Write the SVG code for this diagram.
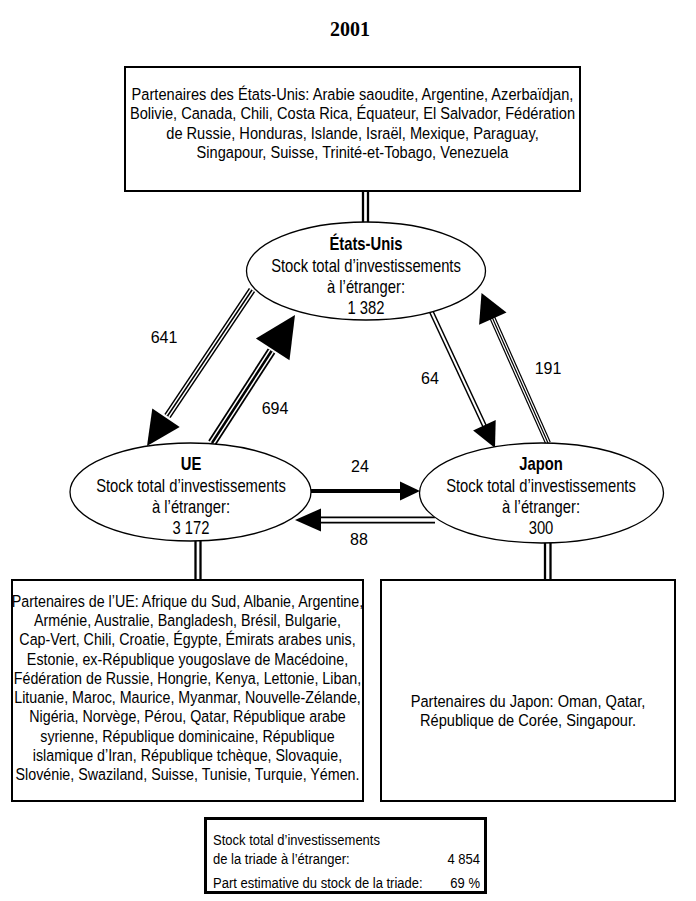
<svg xmlns="http://www.w3.org/2000/svg" width="696" height="901" viewBox="0 0 696 901">
<style>
.box{fill:#fff;stroke:#000;stroke-width:2}
.ell{fill:#fff;stroke:#000;stroke-width:1.3}
.t{font-family:"Liberation Sans",Arial,sans-serif;font-size:17px;fill:#000}
.te{font-family:"Liberation Sans",Arial,sans-serif;font-size:17.5px;fill:#000}
.tb{font-family:"Liberation Sans",Arial,sans-serif;font-size:15.5px;fill:#000}
.lbl{font-family:"Liberation Sans",Arial,sans-serif;font-size:16px;fill:#000;text-anchor:middle}
.b{font-weight:bold}
.k{fill:none;stroke:#000}
.w{fill:none;stroke:#fff}
.head{fill:#000}
.dl{stroke:#000;stroke-width:2.3}
</style>
<text id="title" x="350" y="36" font-family="Liberation Serif,serif" font-weight="bold" font-size="20" text-anchor="middle">2001</text>

<g id="connectors">
  <line class="dl" x1="363" y1="191" x2="363" y2="222"/>
  <line class="dl" x1="368" y1="191" x2="368" y2="222"/>
  <line class="dl" x1="195.5" y1="541" x2="195.5" y2="580"/>
  <line class="dl" x1="200.5" y1="541" x2="200.5" y2="580"/>
  <line class="dl" x1="545" y1="543" x2="545" y2="580"/>
  <line class="dl" x1="550.5" y1="543" x2="550.5" y2="580"/>
  <g id="a641">
    <line class="k" x1="252" y1="290" x2="167.5" y2="416" stroke-width="7.5"/>
    <line class="w" x1="252" y1="290" x2="167.5" y2="416" stroke-width="4.5"/>
    <line class="k" x1="252" y1="290" x2="167.5" y2="416" stroke-width="1.5"/>
    <polygon class="head" points="147,446 179.7,427 152.3,408.6"/>
  </g>
  <g id="a694">
    <line class="k" x1="212" y1="443" x2="271.5" y2="351" stroke-width="9"/>
    <line class="w" x1="212" y1="443" x2="271.5" y2="351" stroke-width="5.5"/>
    <line class="k" x1="212" y1="443" x2="271.5" y2="351" stroke-width="2.5"/>
    <polygon class="head" points="295,315 289.5,360.3 255.9,338.5"/>
  </g>
  <g id="a64">
    <line class="k" x1="431" y1="311" x2="485" y2="427" stroke-width="5"/>
    <line class="w" x1="431" y1="311" x2="485" y2="427" stroke-width="2"/>
    <polygon class="head" points="495,448 495.7,420 473.1,430.6"/>
  </g>
  <g id="a191">
    <line class="k" x1="548" y1="443" x2="492" y2="317" stroke-width="6"/>
    <line class="w" x1="548" y1="443" x2="492" y2="317" stroke-width="3.6"/>
    <line class="k" x1="548" y1="443" x2="492" y2="317" stroke-width="1.2"/>
    <polygon class="head" points="481.5,293 506.5,312.5 479.1,324.7"/>
  </g>
  <g id="a24">
    <line class="k" x1="311" y1="491" x2="402" y2="491" stroke-width="4"/>
    <polygon class="head" points="420,491 400,481.5 400,500.5"/>
  </g>
  <g id="a88">
    <line class="k" x1="435" y1="520" x2="319" y2="520" stroke-width="7"/>
    <line class="w" x1="435" y1="520" x2="319" y2="520" stroke-width="3.6"/>
    <polygon class="head" points="295,520 321,508.5 321,531.5"/>
  </g>
  <text class="lbl" x="164" y="343">641</text>
  <text class="lbl" x="275" y="414">694</text>
  <text class="lbl" x="430" y="384">64</text>
  <text class="lbl" x="548" y="374">191</text>
  <text class="lbl" x="360" y="472">24</text>
  <text class="lbl" x="359" y="545">88</text>
</g>

<g id="box-us">
  <rect class="box" x="125" y="67" width="455" height="124"/>
  <g transform="translate(352.5,0) scale(0.86,1)" class="t" text-anchor="middle">
    <text x="0" y="100">Partenaires des États-Unis: Arabie saoudite, Argentine, Azerbaïdjan,</text>
    <text x="0" y="119.5">Bolivie, Canada, Chili, Costa Rica, Équateur, El Salvador, Fédération</text>
    <text x="0" y="139">de Russie, Honduras, Islande, Israël, Mexique, Paraguay,</text>
    <text x="0" y="158.5">Singapour, Suisse, Trinité-et-Tobago, Venezuela</text>
  </g>
</g>

<g id="node-us">
  <ellipse class="ell" cx="366" cy="271" rx="119.5" ry="49"/>
  <g transform="translate(366,0) scale(0.845,1)" class="te" text-anchor="middle">
    <text x="0" y="250" class="b">États-Unis</text>
    <text x="0" y="272">Stock total d’investissements</text>
    <text x="0" y="293">à l’étranger:</text>
    <text x="0" y="314">1 382</text>
  </g>
</g>

<g id="node-ue">
  <ellipse class="ell" cx="190.5" cy="492" rx="120.5" ry="49"/>
  <g transform="translate(191,0) scale(0.845,1)" class="te" text-anchor="middle">
    <text x="0" y="470" class="b">UE</text>
    <text x="0" y="492">Stock total d’investissements</text>
    <text x="0" y="513">à l’étranger:</text>
    <text x="0" y="534">3 172</text>
  </g>
</g>

<g id="node-jp">
  <ellipse class="ell" cx="541.5" cy="493" rx="122" ry="50"/>
  <g transform="translate(541,0) scale(0.845,1)" class="te" text-anchor="middle">
    <text x="0" y="470" class="b">Japon</text>
    <text x="0" y="492">Stock total d’investissements</text>
    <text x="0" y="513">à l’étranger:</text>
    <text x="0" y="534">300</text>
  </g>
</g>

<g id="box-ue">
  <rect class="box" x="12" y="580" width="351" height="221"/>
  <g transform="translate(187.5,0) scale(0.84,1)" class="t" text-anchor="middle">
    <text x="0" y="607">Partenaires de l’UE: Afrique du Sud, Albanie, Argentine,</text>
    <text x="0" y="626">Arménie, Australie, Bangladesh, Brésil, Bulgarie,</text>
    <text x="0" y="645.5">Cap-Vert, Chili, Croatie, Égypte, Émirats arabes unis,</text>
    <text x="0" y="665">Estonie, ex-République yougoslave de Macédoine,</text>
    <text x="0" y="684">Fédération de Russie, Hongrie, Kenya, Lettonie, Liban,</text>
    <text x="0" y="703">Lituanie, Maroc, Maurice, Myanmar, Nouvelle-Zélande,</text>
    <text x="0" y="722.5">Nigéria, Norvège, Pérou, Qatar, République arabe</text>
    <text x="0" y="742">syrienne, République dominicaine, République</text>
    <text x="0" y="761">islamique d’Iran, République tchèque, Slovaquie,</text>
    <text x="0" y="780">Slovénie, Swaziland, Suisse, Tunisie, Turquie, Yémen.</text>
  </g>
</g>

<g id="box-jp">
  <rect class="box" x="381" y="580" width="294" height="221"/>
  <g transform="translate(528,0) scale(0.86,1)" class="t" text-anchor="middle">
    <text x="0" y="707">Partenaires du Japon: Oman, Qatar,</text>
    <text x="0" y="726">République de Corée, Singapour.</text>
  </g>
</g>

<g id="box-total">
  <rect x="205.5" y="818.5" width="280" height="74" fill="#fff" stroke="#000" stroke-width="3"/>
  <g transform="translate(213,0) scale(0.84,1)" class="tb">
    <text x="0" y="845">Stock total d’investissements</text>
    <text x="0" y="864">de la triade à l’étranger:</text>
    <text x="0" y="888">Part estimative du stock de la triade:</text>
  </g>
  <g transform="translate(480,0) scale(0.84,1)" class="tb" text-anchor="end">
    <text x="0" y="864">4 854</text>
    <text x="0" y="888">69 %</text>
  </g>
</g>
</svg>
